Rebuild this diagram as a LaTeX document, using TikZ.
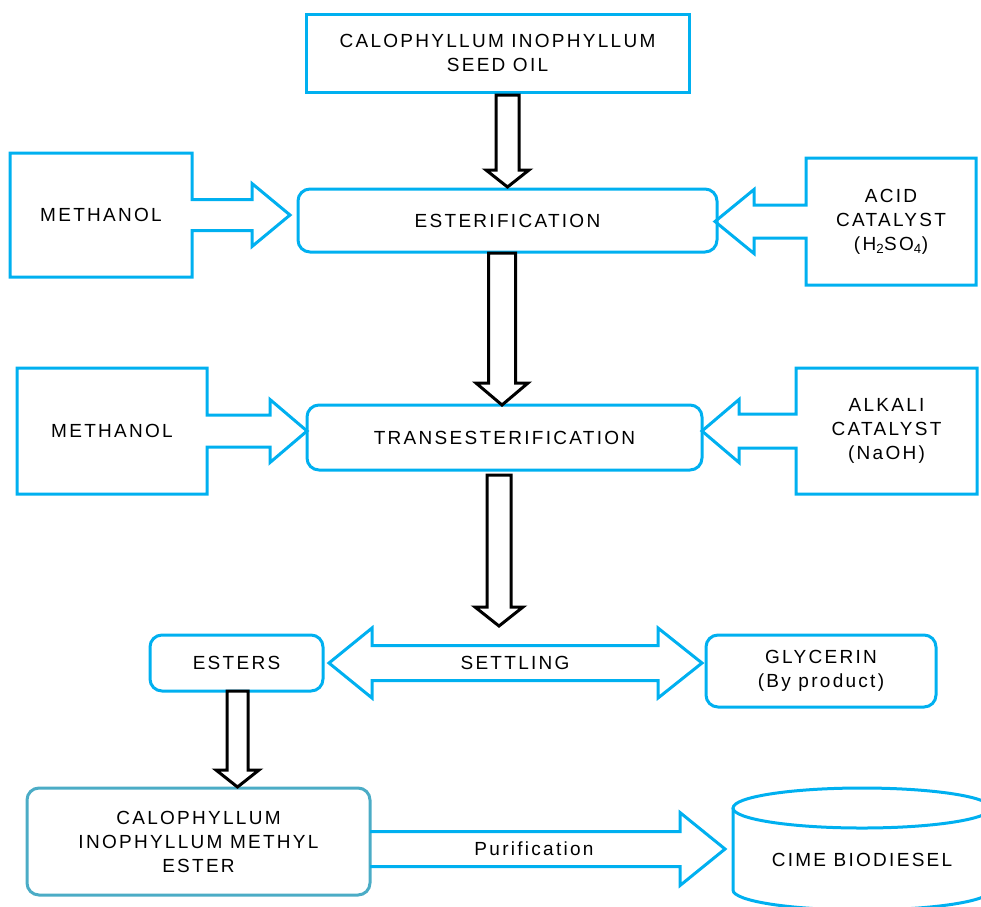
\documentclass[tikz,border=0pt]{standalone}
\usepackage{fontspec}
\setmainfont{Liberation Sans}[LetterSpace=12]
\usetikzlibrary{calc}
\definecolor{boxblue}{HTML}{00B0F0}
\definecolor{esterteal}{HTML}{4BACC6}

\begin{document}
\begin{tikzpicture}[x=1pt, y=1pt,
    txt/.style = {font=\fontsize{19}{24}\selectfont, align=center, inner sep=0pt, outer sep=0pt},
    sqbox/.style = {txt, draw=boxblue, line width=3pt},
    rbox/.style = {sqbox, rounded corners=12pt},
    callout/.style = {draw=boxblue, line width=3pt, line join=miter},
    hollow/.style = {draw=black, line width=3pt, fill=white, line join=miter}]
    \useasboundingbox (0,0) rectangle (981,-906);
    % boxes
    \node[sqbox, minimum width=383, minimum height=78] (seed) at (497.5,-53) {CALOPHYLLUM INOPHYLLUM\\SEED OIL};
    \node[rbox, minimum width=419, minimum height=63] (ester) at (507.5,-220.5) {ESTERIFICATION};
    \node[txt, minimum width=182, minimum height=124] (meth1) at (101,-215) {METHANOL};
    \node[txt, minimum width=170, minimum height=127] (acid) at (891,-221.5) {ACID\\CATALYST\\(H\textsubscript{2}SO\textsubscript{4})};
    \node[rbox, minimum width=395, minimum height=65] (trans) at (504.5,-437.5) {TRANSESTERIFICATION};
    \node[txt, minimum width=190, minimum height=126] (meth2) at (112,-431) {METHANOL};
    \node[txt, minimum width=181, minimum height=126] (alkali) at (886.5,-431) {ALKALI\\CATALYST\\(NaOH)};
    \node[rbox, minimum width=173, minimum height=56] (esters) at (236.5,-663) {ESTERS};
    \node[txt, minimum height=70] (settle) at (515,-663) {SETTLING};
    \node[rbox, minimum width=230, minimum height=72] (glyc) at (821,-671) {GLYCERIN\\(By product)};
    \node[rbox, draw=esterteal, minimum width=343, minimum height=107] (cime) at (198.5,-841.5) {CALOPHYLLUM\\INOPHYLLUM METHYL\\ESTER};
    \node[txt] (purif) at (534,-849) {Purification};
    \node[txt] (biod) at (862,-860) {CIME BIODIESEL};
    \coordinate (cyl) at (733,-849);
    % cylinder
    \draw[callout] (733,-808) -- (733,-890) arc[start angle=180, end angle=360, x radius=129, y radius=20] -- (991,-808);
    \draw[callout] (862,-808) ellipse [x radius=129, y radius=20];
    % callouts into the reactions
    \draw[callout] let \p1=(meth1.north west), \p2=(meth1.south east), \p3=(ester.west), \p4=(meth1.east) in
        (\x1,\y1) -- (\x2,\y1) -- (\x2,\y4+15.5) -- (\x3-46,\y4+15.5) -- (\x3-46,\y4+31.5) -- (\x3-8,\y4)
        -- (\x3-46,\y4-31.5) -- (\x3-46,\y4-15.5) -- (\x2,\y4-15.5) -- (\x2,\y2) -- (\x1,\y2) -- cycle;
    \draw[callout] let \p1=(acid.north west), \p2=(acid.south east), \p3=(ester.east), \p4=(acid.west) in
        (\x2,\y1) -- (\x1,\y1) -- (\x1,\y4+16.5) -- (\x3+37,\y4+16.5) -- (\x3+37,\y4+32) -- (\x3-2,\y4)
        -- (\x3+37,\y4-32) -- (\x3+37,\y4-16.5) -- (\x1,\y4-16.5) -- (\x1,\y2) -- (\x2,\y2) -- cycle;
    \draw[callout] let \p1=(meth2.north west), \p2=(meth2.south east), \p3=(trans.west), \p4=(meth2.east) in
        (\x1,\y1) -- (\x2,\y1) -- (\x2,\y4+16) -- (\x3-37,\y4+16) -- (\x3-37,\y4+31.5) -- (\x3,\y4)
        -- (\x3-37,\y4-31.5) -- (\x3-37,\y4-16) -- (\x2,\y4-16) -- (\x2,\y2) -- (\x1,\y2) -- cycle;
    \draw[callout] let \p1=(alkali.north west), \p2=(alkali.south east), \p3=(trans.east), \p4=(alkali.west) in
        (\x2,\y1) -- (\x1,\y1) -- (\x1,\y4+17) -- (\x3+37,\y4+17) -- (\x3+37,\y4+31.5) -- (\x3,\y4)
        -- (\x3+37,\y4-31.5) -- (\x3+37,\y4-17) -- (\x1,\y4-17) -- (\x1,\y2) -- (\x2,\y2) -- cycle;
    % settling
    \draw[callout] let \p1=(esters.east), \p2=(glyc.west) in
        (\x1+6,\y1) -- (\x1+49,\y1+35) -- (\x1+49,\y1+17.5) -- (\x2-48,\y1+17.5) -- (\x2-48,\y1+35) -- (\x2-4,\y1)
        -- (\x2-48,\y1-35) -- (\x2-48,\y1-17.5) -- (\x1+49,\y1-17.5) -- (\x1+49,\y1-35) -- cycle;
    % purification
    \draw[callout] let \p1=(cime.east), \p3=(cyl) in
        (\x1,\y3+17.5) -- (\x3-53,\y3+17.5) -- (\x3-53,\y3+36.5) -- (\x3-8,\y3)
        -- (\x3-53,\y3-36.5) -- (\x3-53,\y3-17.5) -- (\x1,\y3-17.5);
    % down arrows
    \draw[hollow] let \p1=(seed.south), \p2=(ester.north) in
        (\x2-11.5,\y1-3) -- (\x2-11.5,\y2+19) -- (\x2-21.5,\y2+19) -- (\x2,\y2+2)
        -- (\x2+21.5,\y2+19) -- (\x2+11.5,\y2+19) -- (\x2+11.5,\y1-3) -- cycle;
    \draw[hollow] let \p1=(ester.south), \p2=(trans.north) in
        (\x2-16,\y1-1) -- (\x2-16,\y2+22) -- (\x2-28.5,\y2+22) -- (\x2-2.5,\y2)
        -- (\x2+23.5,\y2+22) -- (\x2+11,\y2+22) -- (\x2+11,\y1-1) -- cycle;
    \draw[hollow] let \p1=(trans.south), \p2=(settle.north) in
        (\x1-17.5,\y1-5) -- (\x1-17.5,\y2+21) -- (\x1-29.5,\y2+21) -- (\x1-5.5,\y2+2)
        -- (\x1+18.5,\y2+21) -- (\x1+6.5,\y2+21) -- (\x1+6.5,\y1-5) -- cycle;
    \draw[hollow] let \p1=(esters.south), \p2=(cime.north) in
        (\x1-9.5,\y1) -- (\x1-9.5,\y2+18) -- (\x1-20.5,\y2+18) -- (\x1+1,\y2+1)
        -- (\x1+22.5,\y2+18) -- (\x1+11.5,\y2+18) -- (\x1+11.5,\y1) -- cycle;
\end{tikzpicture}
\end{document}
